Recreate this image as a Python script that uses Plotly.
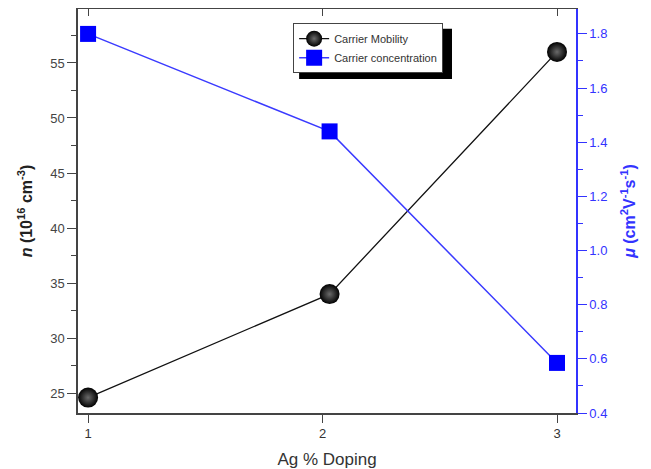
import plotly.graph_objects as go

doping = [1, 2.03, 3]
mobility = [24.6, 34.0, 56.0]
concentration = [1.80, 1.44, 0.585]

fig = go.Figure()
fig.add_trace(go.Scatter(
    x=doping, y=mobility, name="Carrier Mobility", mode="lines+markers",
    line=dict(color="#111111", width=1.3),
    marker=dict(symbol="circle", size=20, color="black",
                gradient=dict(type="radial", color="#6a6a6a"),
                line=dict(width=0)),
    xaxis="x", yaxis="y"))
fig.add_trace(go.Scatter(
    x=doping, y=concentration, name="Carrier concentration", mode="lines+markers",
    line=dict(color="#3a3aff", width=1.5),
    marker=dict(symbol="square", size=16, color="#0000ff", line=dict(width=0)),
    xaxis="x2", yaxis="y2"))

font = "Liberation Sans, Arial, sans-serif"
xr = [0.957, 3.081]
fig.update_layout(
    width=643, height=461,
    margin=dict(l=70, r=75, t=1, b=56),
    plot_bgcolor="white", paper_bgcolor="white",
    font=dict(family=font, size=13, color="#333333"),
    showlegend=True,
    legend=dict(x=0.432, y=0.965, xanchor="left", yanchor="top",
                bgcolor="white", bordercolor="#444444", borderwidth=1,
                font=dict(size=11, color="#333333"), tracegroupgap=0,
                itemwidth=30),
    xaxis=dict(range=xr, tickvals=[1, 2, 3], ticks="outside",
               ticklen=8, tickcolor="#444444", showline=True, linecolor="#444444",
               linewidth=1.5, showgrid=False, zeroline=False, automargin=False,
               title=dict(text="Ag % Doping", font=dict(size=17, color="#333333"), standoff=14),
               tickfont=dict(size=13, color="#333333")),
    xaxis2=dict(range=xr, tickvals=[1, 2, 3], ticks="inside", side="top",
                overlaying="x", anchor="y", showticklabels=False,
                ticklen=7, tickcolor="#444444", showline=True, linecolor="#444444",
                linewidth=1.5, showgrid=False, zeroline=False, automargin=False),
    yaxis=dict(range=[23.2, 59.9], tickvals=[25, 30, 35, 40, 45, 50, 55], ticks="outside",
               ticklen=9, tickcolor="#444444", showline=True, linecolor="#444444",
               linewidth=1.5, showgrid=False, zeroline=False, automargin=False,
               minor=dict(ticks="outside", ticklen=5, dtick=2.5, tickcolor="#444444"),
               title=dict(text="<b><i>n</i> (10<sup>16</sup> cm<sup>-3</sup>)</b>",
                          font=dict(size=16, color="#222222"), standoff=14),
               tickfont=dict(size=13, color="#444444")),
    yaxis2=dict(range=[0.4, 1.892], tickvals=[0.4, 0.6, 0.8, 1.0, 1.2, 1.4, 1.6, 1.8],
                ticktext=["0.4", "0.6", "0.8", "1.0", "1.2", "1.4", "1.6", "1.8"],
                overlaying="y", side="right", anchor="x2",
                ticks="outside", ticklen=9, tickcolor="#3333ff",
                showline=True, linecolor="#3333ff", linewidth=1.5,
                showgrid=False, zeroline=False, automargin=False,
                minor=dict(ticks="outside", ticklen=5, dtick=0.1, tickcolor="#3333ff"),
                title=dict(text="<b><i>μ</i> (cm<sup>2</sup>V<sup>-1</sup>s<sup>-1</sup>)</b>",
                           font=dict(size=16, color="#3333ff"), standoff=17),
                tickfont=dict(size=13, color="#3333ff")),
)
# legend drop shadow (paper coordinates)
fig.add_shape(type="rect", xref="paper", yref="paper",
              x0=0.444, x1=0.751, y0=0.827, y1=0.951,
              fillcolor="black", line=dict(width=0), layer="below")
fig.write_html("out.html")
